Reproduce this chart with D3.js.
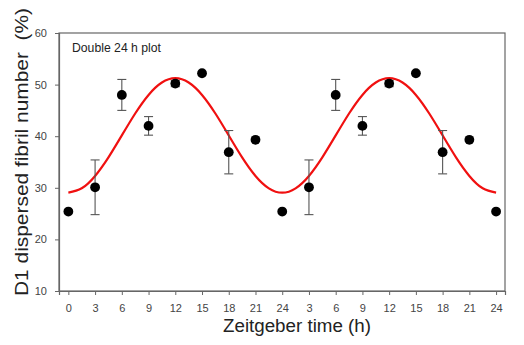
<!DOCTYPE html>
<html><head><meta charset="utf-8">
<script src="https://cdn.jsdelivr.net/npm/d3@7"></script>
<style>body{margin:0;background:#fff}svg{display:block;font-family:Arial,"Liberation Sans",sans-serif}</style>
</head><body><svg id="c" width="524" height="345"></svg>
<script>
// Data (Zeitgeber hours on a double 24 h axis, 0..48)
const hours = [0,3,6,9,12,15,18,21,24,27,30,33,36,39,42,45,48];
const tickLabels = ["0","3","6","9","12","15","18","21","24","3","6","9","12","15","18","21","24"];
const means = [25.4,30.1,48.0,42.0,50.2,52.2,36.9,39.3,25.4,30.1,48.0,42.0,50.2,52.2,36.9,39.3,25.4];
const errs  = [0,5.3,3.0,1.8,0.6,0,4.2,0,0,5.3,3.0,1.8,0.6,0,4.2,0,0];
// fitted curve read at 1.5 h steps
const fitHours = [0,1.5,3,4.5,6,7.5,9,10.5,12,13.5,15,16.5,18,19.5,21,22.5,24,25.5,27,28.5,30,31.5,33,34.5,36,37.5,39,40.5,42,43.5,45,46.5,48];
const fitValues = [29.05,29.9,32.3,35.9,40.15,44.4,48.0,50.4,51.25,50.4,48.0,44.4,40.15,35.9,32.3,29.9,29.05,29.9,32.3,35.9,40.15,44.4,48.0,50.4,51.25,50.4,48.0,44.4,40.15,35.9,32.3,29.9,29.05];
const yTicks = [10,20,30,40,50,60];

const svg = d3.select("#c");
const L=59, R=505, T=33, B=291;
const x = d3.scaleLinear().domain([-1.05,49]).range([L,R]);
const y = d3.scaleLinear().domain([10,60]).range([B,T]);
const axisCol = "#666", txtCol="#444";

// frame
svg.append("rect").attr("x",L).attr("y",T).attr("width",R-L).attr("height",B-T)
  .attr("fill","none").attr("stroke",axisCol).attr("stroke-width",1.2);

// y axis
const ya = svg.append("g").attr("transform",`translate(${L},0)`)
  .call(d3.axisLeft(y).tickValues(yTicks).tickSize(4).tickPadding(8));
// x axis
const xa = svg.append("g").attr("transform",`translate(0,${B})`)
  .call(d3.axisBottom(x).tickValues(hours).tickSize(4).tickPadding(9).tickFormat((d,i)=>tickLabels[i]));
[ya,xa].forEach(g=>{
  g.select(".domain").attr("stroke",axisCol).attr("stroke-width",1.2);
  g.selectAll(".tick line").attr("stroke",axisCol).attr("stroke-width",1);
  g.selectAll(".tick text").attr("fill",txtCol).style("font-size","11px").style("font-family","Arial,'Liberation Sans',sans-serif");
});

// fitted curve
svg.append("path").datum(fitHours.map((h,i)=>[h,fitValues[i]]))
  .attr("d",d3.line().x(d=>x(d[0])).y(d=>y(d[1])).curve(d3.curveNatural))
  .attr("fill","none").attr("stroke","#f01010").attr("stroke-width",2.2);

// error bars
const eb = svg.append("g").attr("stroke","#555").attr("stroke-width",1.1);
hours.forEach((h,i)=>{
  if(!errs[i]) return;
  const cx=x(h), y1=y(means[i]+errs[i]), y0=y(means[i]-errs[i]);
  eb.append("line").attr("x1",cx).attr("x2",cx).attr("y1",y1).attr("y2",y0);
  eb.append("line").attr("x1",cx-4.5).attr("x2",cx+4.5).attr("y1",y1).attr("y2",y1);
  eb.append("line").attr("x1",cx-4.5).attr("x2",cx+4.5).attr("y1",y0).attr("y2",y0);
});

// points
svg.append("g").selectAll("circle").data(hours).join("circle")
  .attr("cx",d=>x(d)).attr("cy",(d,i)=>y(means[i])).attr("r",4.9).attr("fill","#000");

// labels
svg.append("text").attr("x",72).attr("y",52).text("Double 24 h plot")
  .attr("textLength",89).attr("lengthAdjust","spacingAndGlyphs")
  .style("font-size","12px").attr("fill","#222");
svg.append("text").attr("x",297).attr("y",332).attr("text-anchor","middle")
  .attr("textLength",148).attr("lengthAdjust","spacingAndGlyphs")
  .text("Zeitgeber time (h)").style("font-size","18px").attr("fill","#222");
svg.append("text").attr("transform",`translate(28,152) rotate(-90)`).attr("text-anchor","middle")
  .attr("textLength",288).attr("lengthAdjust","spacingAndGlyphs")
  .text("D1 dispersed fibril number\u00a0 (%)").style("font-size","19px").attr("fill","#222");
</script></body></html>
